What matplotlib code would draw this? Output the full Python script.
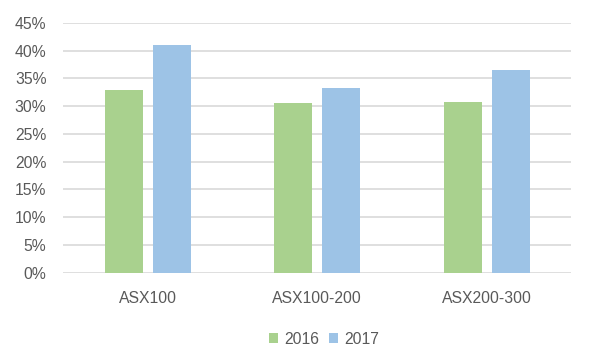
import numpy as np
import matplotlib
matplotlib.use("Agg")
import matplotlib.pyplot as plt
from matplotlib.ticker import PercentFormatter

categories = ["ASX100", "ASX100-200", "ASX200-300"]
series_names = ["2016", "2017"]
values_2016 = [32.9, 30.6, 30.75]
values_2017 = [41.0, 33.3, 36.5]
y_ticks = [0, 5, 10, 15, 20, 25, 30, 35, 40, 45]

green = "#A9D18E"
blue = "#9DC3E6"
text_col = "#595959"

plt.rcParams['font.family'] = ['Liberation Sans', 'DejaVu Sans']

fig = plt.figure(figsize=(5.95, 3.55), dpi=100)
ax = fig.add_axes([0.1059, 0.2318, 0.8546, 0.7034])

x = np.arange(len(categories))
w = 0.224
off = 0.1416
ax.bar(x - off, values_2016, w, color=green, label=series_names[0], zorder=3)
ax.bar(x + off, values_2017, w, color=blue, label=series_names[1], zorder=3)

ax.set_xlim(-0.5, len(categories) - 0.5)
ax.set_ylim(0, 45)
ax.set_yticks(y_ticks)
ax.yaxis.set_major_formatter(PercentFormatter(decimals=0))
ax.set_xticks(x)
ax.set_xticklabels(categories)

ax.grid(axis="y", color="#D9D9D9", linewidth=1.2, zorder=0)
for s in ax.spines.values():
    s.set_visible(False)
ax.tick_params(axis="both", length=0, labelsize=11.3, colors=text_col)
ax.tick_params(axis="x", pad=13)
ax.tick_params(axis="y", pad=12)

leg = fig.legend(loc="center", bbox_to_anchor=(0.545, 0.045), ncol=2, frameon=False,
                 fontsize=11.3, handlelength=0.57, handleheight=0.57, columnspacing=0.6,
                 handletextpad=0.4)
for t in leg.get_texts():
    t.set_color(text_col)

fig.savefig("out.png", dpi=100)
